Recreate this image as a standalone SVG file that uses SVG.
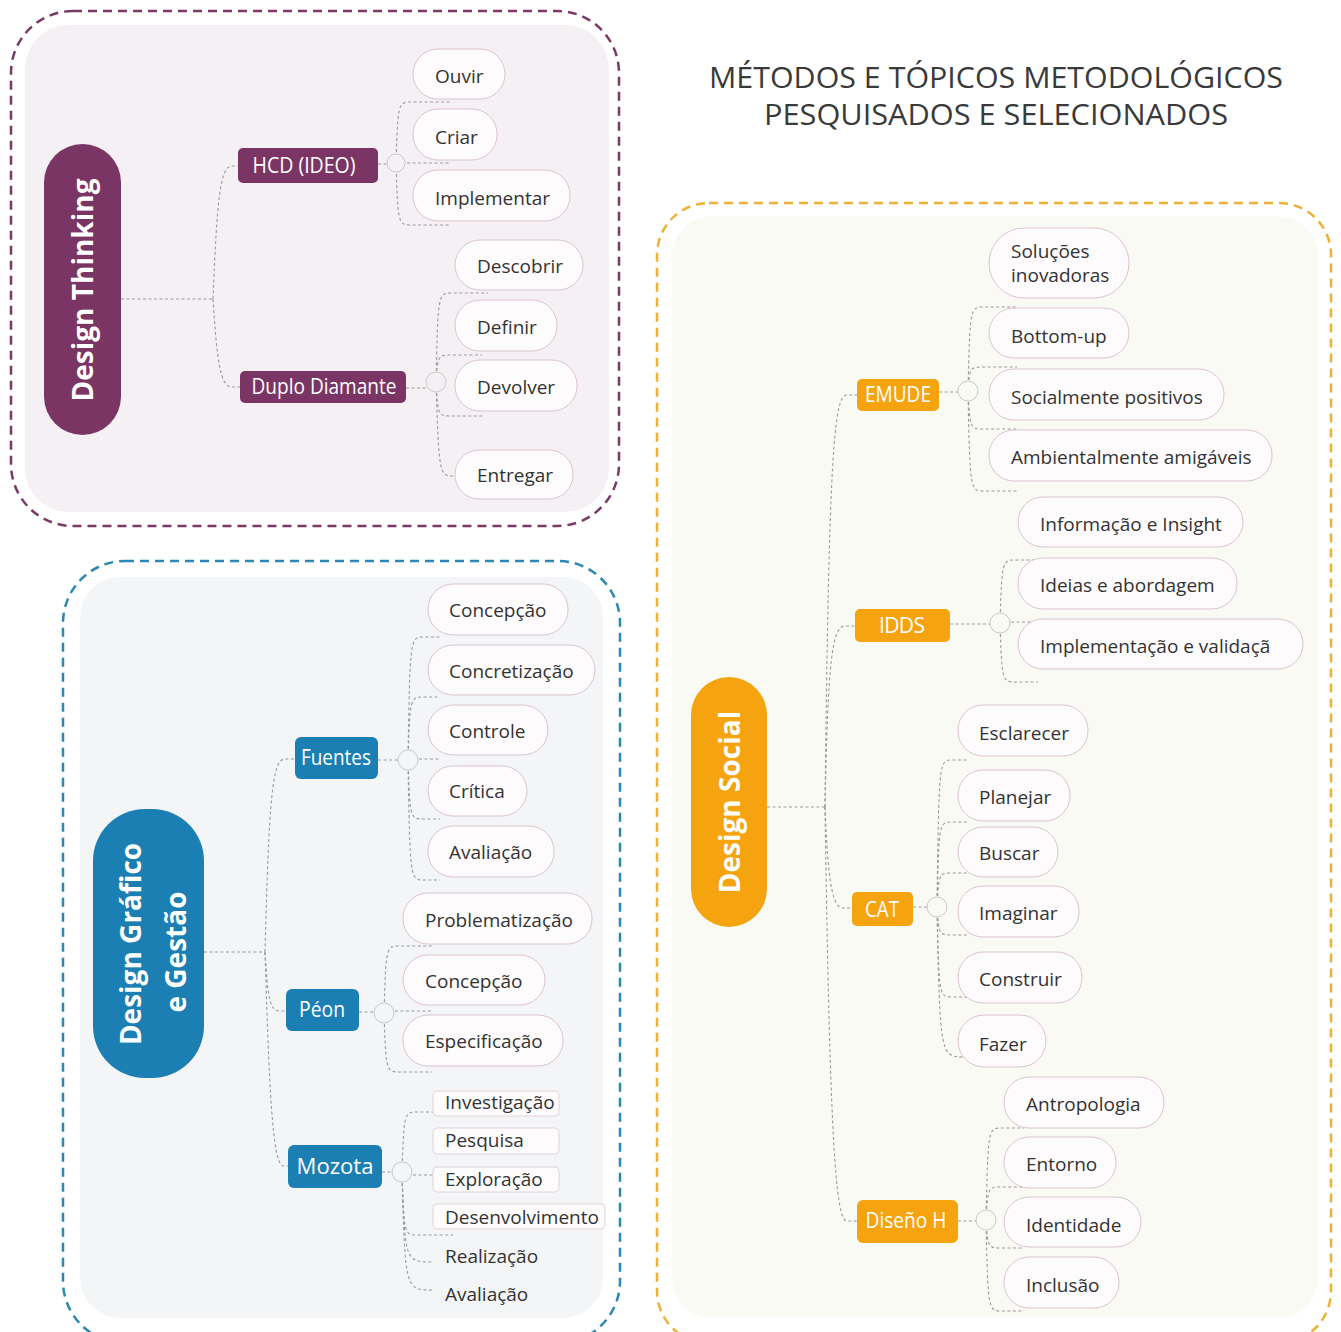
<svg xmlns="http://www.w3.org/2000/svg" width="1341" height="1332" viewBox="0 0 1341 1332">
  <style>
    .frame { fill: none; stroke-width: 2.5; stroke-dasharray: 9 6; }
    .link { fill: none; stroke: #9a9a9a; stroke-width: 1.1; stroke-dasharray: 3 2.5; }
    .hub { stroke: #c9c9c9; stroke-width: 1; }
    .leaf { fill: #fdfbfc; stroke: #dcc3d3; stroke-width: 1; }
    .tag { fill: #fdfbfc; stroke: #e3d3dd; stroke-width: 1; }
    .lt { font-family: "Open Sans", "Noto Sans", sans-serif; font-size: 19px; fill: #333333; dominant-baseline: central; }
    .bt { font-family: "Open Sans", "Noto Sans", sans-serif; font-size: 21px; fill: #ffffff; dominant-baseline: central; text-anchor: middle; }
    .rt { font-family: "Open Sans", "Noto Sans", sans-serif; font-size: 28px; font-weight: 700; fill: #ffffff; text-anchor: middle; }
    .title { font-family: "Open Sans", "Noto Sans", sans-serif; font-size: 30px; font-weight: 500; fill: #3a3a3a; text-anchor: middle; }
    .dt { fill: #7b3565; }
    .dg { fill: #1b7fb4; }
    .ds { fill: #f5a30e; }
  </style>

  <rect width="1341" height="1332" fill="#ffffff"/>

  <!-- title -->
  <text class="title" x="996" y="88" textLength="574" lengthAdjust="spacingAndGlyphs">MÉTODOS E TÓPICOS METODOLÓGICOS</text>
  <text class="title" x="996" y="125" textLength="464" lengthAdjust="spacingAndGlyphs">PESQUISADOS E SELECIONADOS</text>

  <!-- panels -->
  <g id="panel-design-thinking">
    <rect class="frame" x="11" y="11" width="608" height="515" rx="62" stroke="#7b3a66"/>
    <rect x="25" y="25" width="584" height="487" rx="44" fill="#f5f0f3"/>
  </g>
  <g id="panel-design-grafico">
    <rect class="frame" x="63" y="561" width="557" height="782" rx="62" stroke="#2d87b3"/>
    <rect x="80" y="577" width="523" height="741" rx="40" fill="#f3f5f6"/>
  </g>
  <g id="panel-design-social">
    <rect class="frame" x="657" y="203" width="674" height="1140" rx="52" stroke="#efb035"/>
    <rect x="672" y="216" width="646" height="1102" rx="40" fill="#fafaf5"/>
  </g>

  <!-- connectors -->
  <g id="connectors">
    <!-- Design Thinking -->
    <path class="link" d="M121,299 H213"/>
    <path class="link" d="M213,299 C217,200 220,166 232,166 H238"/>
    <path class="link" d="M213,299 C217,360 220,387 232,387 H240"/>
    <path class="link" d="M378,164 H387"/>
    <path class="link" d="M396,163 C398,102 398,102 412,102 H450"/>
    <path class="link" d="M396,163 H450"/>
    <path class="link" d="M396,163 C398,225 398,225 412,225 H450"/>
    <path class="link" d="M406,388 H427"/>
    <path class="link" d="M436,382 C438,293 438,293 452,293 H488"/>
    <path class="link" d="M436,382 C438,355 438,355 452,355 H482"/>
    <path class="link" d="M436,382 C438,416 438,416 452,416 H482"/>
    <path class="link" d="M436,382 C439,476 439,476 455,476 H476"/>
    <!-- Design Gráfico e Gestão -->
    <path class="link" d="M204,952 H265"/>
    <path class="link" d="M265,952 C269,800 272,759 285,759 H295"/>
    <path class="link" d="M265,952 C268,1000 270,1011 280,1011 H286"/>
    <path class="link" d="M265,952 C270,1120 274,1166 284,1166 H288"/>
    <path class="link" d="M378,760 H398"/>
    <path class="link" d="M408,760 C410,637 410,637 424,637 H440"/>
    <path class="link" d="M408,760 C410,697 410,697 424,697 H440"/>
    <path class="link" d="M408,759 H440"/>
    <path class="link" d="M408,760 C410,819 410,819 424,819 H440"/>
    <path class="link" d="M408,760 C410,880 410,880 424,880 H440"/>
    <path class="link" d="M359,1012 H374"/>
    <path class="link" d="M384,1013 C386,946 386,946 400,946 H432"/>
    <path class="link" d="M384,1011 H432"/>
    <path class="link" d="M384,1013 C386,1072 386,1072 400,1072 H432"/>
    <path class="link" d="M382,1172 H392"/>
    <path class="link" d="M402,1172 C404,1112 404,1112 418,1112 H433"/>
    <path class="link" d="M402,1175 H433"/>
    <path class="link" d="M402,1172 C404,1235 404,1235 418,1235 H453"/>
    <path class="link" d="M402,1172 C405,1262 405,1262 433,1262"/>
    <path class="link" d="M402,1172 C405,1290 405,1290 433,1290"/>
    <!-- Design Social -->
    <path class="link" d="M767,807 H825"/>
    <path class="link" d="M825,807 C829,450 834,395 847,395 H857"/>
    <path class="link" d="M825,807 C828,660 832,626 845,626 H855"/>
    <path class="link" d="M825,807 C828,880 832,908 843,908 H852"/>
    <path class="link" d="M825,807 C830,1150 836,1221 847,1221 H857"/>
    <path class="link" d="M939,392 H958"/>
    <path class="link" d="M968,391 C970,307 970,307 984,307 H1017"/>
    <path class="link" d="M968,391 C970,367 970,367 984,367 H1017"/>
    <path class="link" d="M968,391 C970,429 970,429 984,429 H1017"/>
    <path class="link" d="M968,391 C970,491 970,491 984,491 H1017"/>
    <path class="link" d="M950,624 H990"/>
    <path class="link" d="M1000,623 C1002,560 1002,560 1016,560 H1038"/>
    <path class="link" d="M1000,622 H1038"/>
    <path class="link" d="M1000,623 C1002,682 1002,682 1016,682 H1038"/>
    <path class="link" d="M913,907 H927"/>
    <path class="link" d="M937,907 C939,760 939,760 952,760 H967"/>
    <path class="link" d="M937,907 C939,822 939,822 952,822 H967"/>
    <path class="link" d="M937,907 C939,873 939,873 952,873 H967"/>
    <path class="link" d="M937,907 C939,935 939,935 952,935 H967"/>
    <path class="link" d="M937,907 C939,997 939,997 952,997 H967"/>
    <path class="link" d="M937,907 C940,1057 940,1057 965,1057"/>
    <path class="link" d="M958,1221 H976"/>
    <path class="link" d="M986,1220 C988,1128 988,1128 1002,1128 H1024"/>
    <path class="link" d="M986,1220 C988,1187 988,1187 1002,1187 H1024"/>
    <path class="link" d="M986,1220 C988,1248 988,1248 1002,1248 H1024"/>
    <path class="link" d="M986,1220 C988,1311 988,1311 1002,1311 H1024"/>
  </g>

  <!-- Design Thinking -->
  <g id="node-design-thinking">
    <rect class="dt" x="44" y="144" width="77" height="291" rx="38.5"/>
    <text class="rt" transform="translate(93,290) rotate(-90)">Design Thinking</text>
  </g>
  <g id="node-hcd">
    <rect class="dt" x="238" y="148" width="140" height="35" rx="5"/>
    <text class="bt" x="304" y="165" textLength="103" lengthAdjust="spacingAndGlyphs">HCD (IDEO)</text>
    <circle class="hub" cx="396" cy="163" r="9" fill="#f5f0f3"/>
  </g>
  <g id="node-ouvir"><rect class="leaf" x="413" y="49" width="92" height="50" rx="25"/><text class="lt" x="435" y="76">Ouvir</text></g>
  <g id="node-criar"><rect class="leaf" x="413" y="109" width="84" height="51" rx="25"/><text class="lt" x="435" y="137">Criar</text></g>
  <g id="node-implementar"><rect class="leaf" x="413" y="170" width="157" height="51" rx="25"/><text class="lt" x="435" y="198">Implementar</text></g>
  <g id="node-duplo-diamante">
    <rect class="dt" x="240" y="371" width="166" height="32" rx="5"/>
    <text class="bt" x="324" y="386" textLength="145" lengthAdjust="spacingAndGlyphs">Duplo Diamante</text>
    <circle class="hub" cx="436" cy="382" r="10" fill="#f5f0f3"/>
  </g>
  <g id="node-descobrir"><rect class="leaf" x="455" y="240" width="128" height="50" rx="25"/><text class="lt" x="477" y="266">Descobrir</text></g>
  <g id="node-definir"><rect class="leaf" x="455" y="300" width="102" height="51" rx="25"/><text class="lt" x="477" y="327">Definir</text></g>
  <g id="node-devolver"><rect class="leaf" x="455" y="360" width="122" height="51" rx="25"/><text class="lt" x="477" y="387">Devolver</text></g>
  <g id="node-entregar"><rect class="leaf" x="455" y="450" width="118" height="49" rx="24"/><text class="lt" x="477" y="475">Entregar</text></g>

  <!-- Design Gráfico e Gestão -->
  <g id="node-design-grafico">
    <rect class="dg" x="93" y="809" width="111" height="269" rx="52"/>
    <text class="rt" transform="translate(141,944) rotate(-90)">Design Gráfico</text>
    <text class="rt" transform="translate(186,952) rotate(-90)">e Gestão</text>
  </g>
  <g id="node-fuentes">
    <rect class="dg" x="295" y="737" width="83" height="42" rx="6"/>
    <text class="bt" x="336" y="757" textLength="70" lengthAdjust="spacingAndGlyphs">Fuentes</text>
    <circle class="hub" cx="408" cy="760" r="10" fill="#f3f5f6"/>
  </g>
  <g id="node-concepcao-1"><rect class="leaf" x="428" y="584" width="140" height="51" rx="25"/><text class="lt" x="449" y="610">Concepção</text></g>
  <g id="node-concretizacao"><rect class="leaf" x="428" y="645" width="167" height="50" rx="25"/><text class="lt" x="449" y="671">Concretização</text></g>
  <g id="node-controle"><rect class="leaf" x="428" y="705" width="120" height="50" rx="25"/><text class="lt" x="449" y="731">Controle</text></g>
  <g id="node-critica"><rect class="leaf" x="428" y="766" width="99" height="50" rx="25"/><text class="lt" x="449" y="791">Crítica</text></g>
  <g id="node-avaliacao-1"><rect class="leaf" x="428" y="826" width="126" height="51" rx="25"/><text class="lt" x="449" y="852">Avaliação</text></g>
  <g id="node-peon">
    <rect class="dg" x="286" y="989" width="73" height="42" rx="6"/>
    <text class="bt" x="322" y="1009" textLength="46" lengthAdjust="spacingAndGlyphs">Péon</text>
    <circle class="hub" cx="384" cy="1013" r="10" fill="#f3f5f6"/>
  </g>
  <g id="node-problematizacao"><rect class="leaf" x="403" y="893" width="189" height="51" rx="25"/><text class="lt" x="425" y="920">Problematização</text></g>
  <g id="node-concepcao-2"><rect class="leaf" x="403" y="955" width="142" height="50" rx="25"/><text class="lt" x="425" y="981">Concepção</text></g>
  <g id="node-especificacao"><rect class="leaf" x="403" y="1015" width="160" height="51" rx="25"/><text class="lt" x="425" y="1041">Especificação</text></g>
  <g id="node-mozota">
    <rect class="dg" x="288" y="1145" width="94" height="43" rx="6"/>
    <text class="bt" x="335" y="1166" font-size="22" textLength="77" lengthAdjust="spacingAndGlyphs">Mozota</text>
    <circle class="hub" cx="402" cy="1172" r="10" fill="#f3f5f6"/>
  </g>
  <g id="node-investigacao"><rect class="tag" x="433" y="1091" width="126" height="25" rx="4"/><text class="lt" x="445" y="1102">Investigação</text></g>
  <g id="node-pesquisa"><rect class="tag" x="433" y="1128" width="126" height="26" rx="4"/><text class="lt" x="445" y="1140">Pesquisa</text></g>
  <g id="node-exploracao"><rect class="tag" x="433" y="1167" width="126" height="25" rx="4"/><text class="lt" x="445" y="1179">Exploração</text></g>
  <g id="node-desenvolvimento"><rect class="tag" x="433" y="1204" width="172" height="25" rx="4"/><text class="lt" x="445" y="1217">Desenvolvimento</text></g>
  <g id="node-realizacao"><text class="lt" x="445" y="1256">Realização</text></g>
  <g id="node-avaliacao-2"><text class="lt" x="445" y="1294">Avaliação</text></g>

  <!-- Design Social -->
  <g id="node-design-social">
    <rect class="ds" x="691" y="677" width="76" height="250" rx="38"/>
    <text class="rt" transform="translate(740,802) rotate(-90)">Design Social</text>
  </g>
  <g id="node-emude">
    <rect class="ds" x="857" y="379" width="82" height="32" rx="5"/>
    <text class="bt" x="898" y="394" textLength="66" lengthAdjust="spacingAndGlyphs">EMUDE</text>
    <circle class="hub" cx="968" cy="391" r="10" fill="#fafaf5"/>
  </g>
  <g id="node-solucoes"><rect class="leaf" x="989" y="228" width="140" height="70" rx="35"/><text class="lt" x="1011" y="251">Soluções</text><text class="lt" x="1011" y="275">inovadoras</text></g>
  <g id="node-bottom-up"><rect class="leaf" x="989" y="308" width="140" height="50" rx="25"/><text class="lt" x="1011" y="336">Bottom-up</text></g>
  <g id="node-socialmente"><rect class="leaf" x="989" y="369" width="235" height="51" rx="25"/><text class="lt" x="1011" y="397">Socialmente positivos</text></g>
  <g id="node-ambientalmente"><rect class="leaf" x="989" y="430" width="283" height="51" rx="25"/><text class="lt" x="1011" y="457">Ambientalmente amigáveis</text></g>
  <g id="node-idds">
    <rect class="ds" x="855" y="609" width="95" height="33" rx="5"/>
    <text class="bt" x="902" y="625" textLength="46" lengthAdjust="spacing">IDDS</text>
    <circle class="hub" cx="1000" cy="623" r="10" fill="#fafaf5"/>
  </g>
  <g id="node-informacao"><rect class="leaf" x="1018" y="497" width="225" height="50" rx="25"/><text class="lt" x="1040" y="524">Informação e Insight</text></g>
  <g id="node-ideias"><rect class="leaf" x="1018" y="558" width="219" height="51" rx="25"/><text class="lt" x="1040" y="585">Ideias e abordagem</text></g>
  <g id="node-implementacao"><rect class="leaf" x="1018" y="619" width="285" height="50" rx="25"/><text class="lt" x="1040" y="646">Implementação e validaçã</text></g>
  <g id="node-cat">
    <rect class="ds" x="852" y="892" width="61" height="34" rx="5"/>
    <text class="bt" x="882" y="909" textLength="34" lengthAdjust="spacingAndGlyphs">CAT</text>
    <circle class="hub" cx="937" cy="907" r="10" fill="#fafaf5"/>
  </g>
  <g id="node-esclarecer"><rect class="leaf" x="958" y="705" width="130" height="51" rx="25"/><text class="lt" x="979" y="733">Esclarecer</text></g>
  <g id="node-planejar"><rect class="leaf" x="958" y="770" width="112" height="51" rx="25"/><text class="lt" x="979" y="797">Planejar</text></g>
  <g id="node-buscar"><rect class="leaf" x="958" y="827" width="100" height="50" rx="25"/><text class="lt" x="979" y="853">Buscar</text></g>
  <g id="node-imaginar"><rect class="leaf" x="958" y="886" width="121" height="51" rx="25"/><text class="lt" x="979" y="913">Imaginar</text></g>
  <g id="node-construir"><rect class="leaf" x="958" y="952" width="124" height="51" rx="25"/><text class="lt" x="979" y="979">Construir</text></g>
  <g id="node-fazer"><rect class="leaf" x="958" y="1015" width="88" height="52" rx="26"/><text class="lt" x="979" y="1044">Fazer</text></g>
  <g id="node-diseno-h">
    <rect class="ds" x="857" y="1200" width="101" height="43" rx="6"/>
    <text class="bt" x="906" y="1220" textLength="81" lengthAdjust="spacingAndGlyphs">Diseño H</text>
    <circle class="hub" cx="986" cy="1220" r="10" fill="#fafaf5"/>
  </g>
  <g id="node-antropologia"><rect class="leaf" x="1004" y="1077" width="160" height="51" rx="25"/><text class="lt" x="1026" y="1104">Antropologia</text></g>
  <g id="node-entorno"><rect class="leaf" x="1004" y="1137" width="112" height="51" rx="25"/><text class="lt" x="1026" y="1164">Entorno</text></g>
  <g id="node-identidade"><rect class="leaf" x="1004" y="1197" width="137" height="50" rx="25"/><text class="lt" x="1026" y="1225">Identidade</text></g>
  <g id="node-inclusao"><rect class="leaf" x="1004" y="1257" width="115" height="51" rx="25"/><text class="lt" x="1026" y="1285">Inclusão</text></g>
</svg>
